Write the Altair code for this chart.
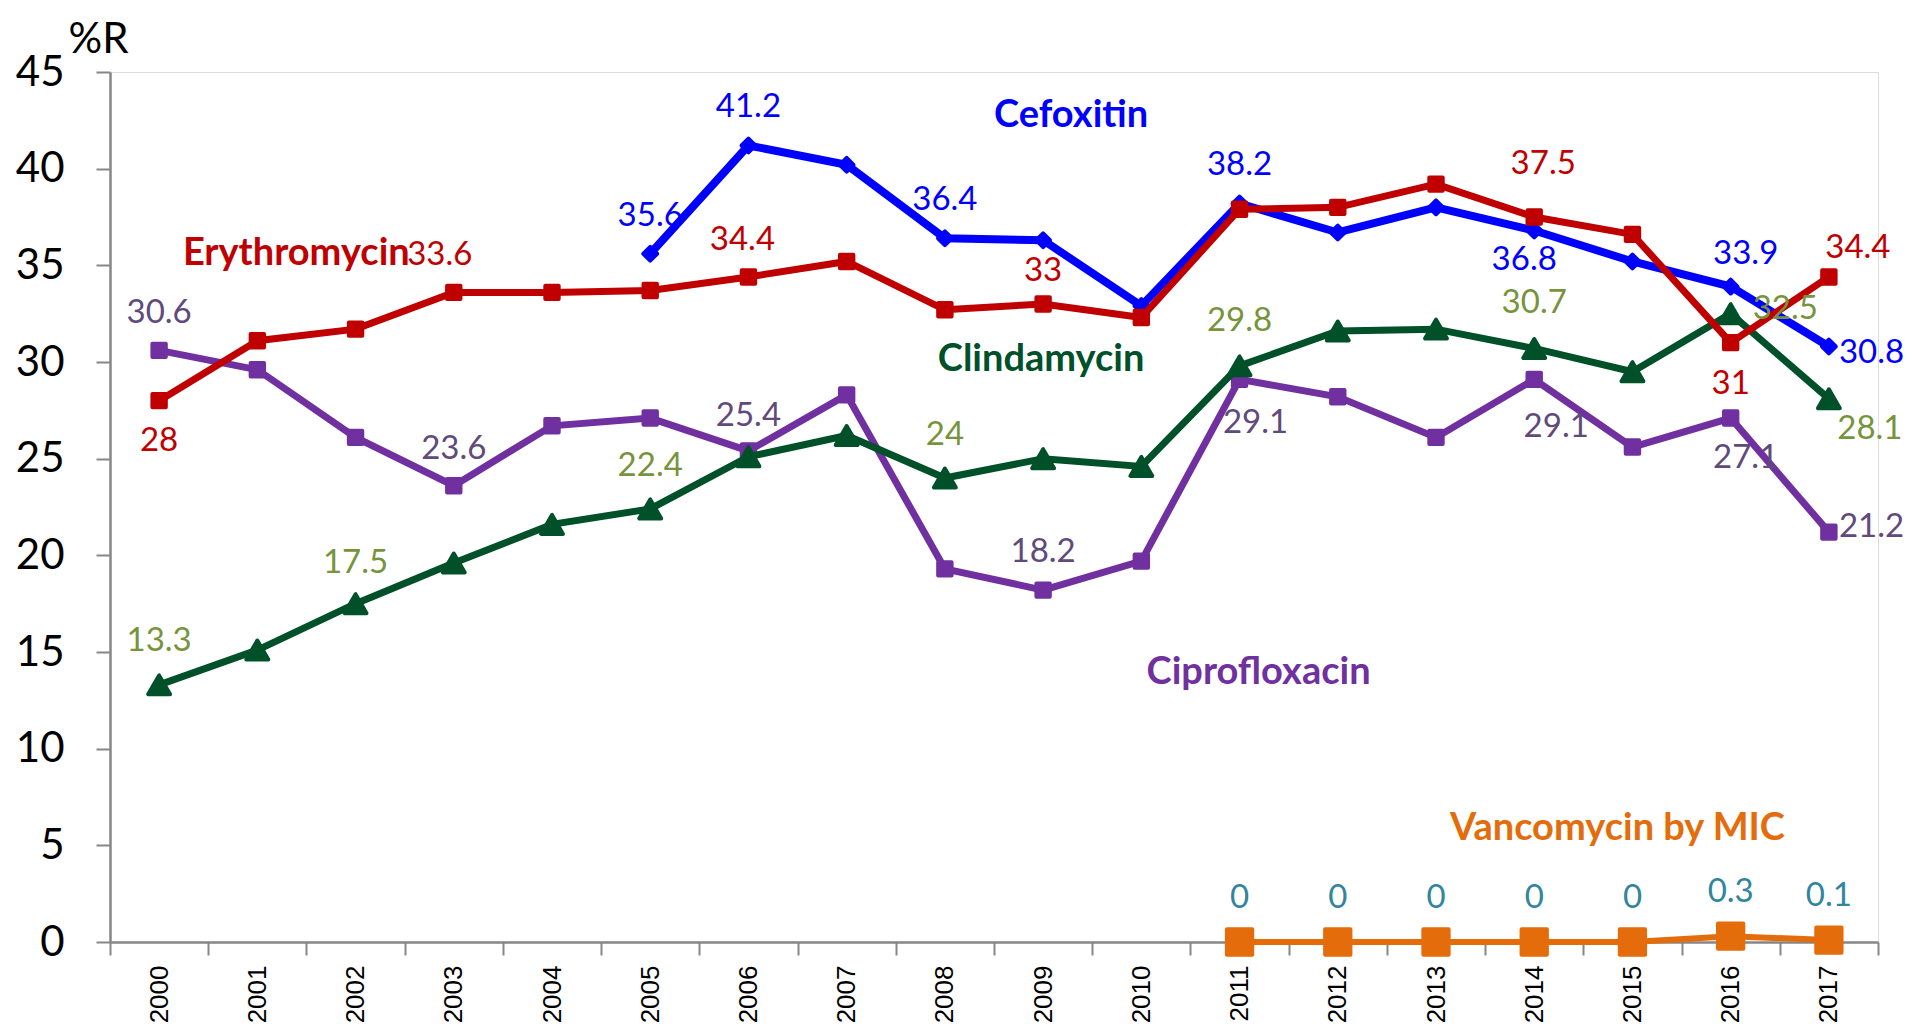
import altair as alt
import pandas as pd

# ---------------- data ----------------
years = list(range(2000, 2018))
cefoxitin_years = list(range(2005, 2018))
cefoxitin = [35.6, 41.2, 40.2, 36.4, 36.3, 32.9, 38.2, 36.7, 38.0, 36.8, 35.2, 33.9, 30.8]
erythromycin = [28, 31.1, 31.7, 33.6, 33.6, 33.7, 34.4, 35.2, 32.7, 33, 32.3, 37.9, 38.0, 39.2, 37.5, 36.6, 31, 34.4]
clindamycin = [13.3, 15.1, 17.5, 19.6, 21.6, 22.4, 25.1, 26.2, 24, 25.0, 24.6, 29.8, 31.6, 31.7, 30.7, 29.5, 32.5, 28.1]
ciprofloxacin = [30.6, 29.6, 26.1, 23.6, 26.7, 27.1, 25.4, 28.3, 19.3, 18.2, 19.7, 29.1, 28.2, 26.1, 29.1, 25.6, 27.1, 21.2]
vancomycin_years = list(range(2011, 2018))
vancomycin = [0, 0, 0, 0, 0, 0.3, 0.1]

series_names = ["Vancomycin by MIC", "Ciprofloxacin", "Clindamycin", "Cefoxitin", "Erythromycin"]
series_data = {
    "Cefoxitin": (cefoxitin_years, cefoxitin),
    "Erythromycin": (years, erythromycin),
    "Clindamycin": (years, clindamycin),
    "Ciprofloxacin": (years, ciprofloxacin),
    "Vancomycin by MIC": (vancomycin_years, vancomycin),
}

# ---------------- styles ----------------
line_color = {
    "Cefoxitin": "#0000FF",
    "Erythromycin": "#C00000",
    "Clindamycin": "#00502A",
    "Ciprofloxacin": "#7030A0",
    "Vancomycin by MIC": "#E46C0A",
}
label_color = {
    "Cefoxitin": "#0000FF",
    "Erythromycin": "#C00000",
    "Clindamycin": "#77933C",
    "Ciprofloxacin": "#604A7B",
    "Vancomycin by MIC": "#31859C",
}
line_width = {"Cefoxitin": 8, "Erythromycin": 7, "Clindamycin": 7, "Ciprofloxacin": 7, "Vancomycin by MIC": 6}
marker = {
    "Cefoxitin": ("diamond", 190),
    "Erythromycin": ("square", 180),
    "Clindamycin": ("triangle-up", 480),
    "Ciprofloxacin": ("square", 180),
    "Vancomycin by MIC": ("square", 640),
}

# data-label placement: (series, year, dx, dy, align)
label_place = [
    ("Cefoxitin", 2005, 0, -38, "center"), ("Cefoxitin", 2006, 0, -38, "center"),
    ("Cefoxitin", 2008, 0, -38, "center"), ("Cefoxitin", 2011, 0, -38, "center"),
    ("Cefoxitin", 2014, -10, 29, "center"), ("Cefoxitin", 2016, 15, -33, "center"),
    ("Cefoxitin", 2017, 10, 6, "left"),
    ("Erythromycin", 2000, 0, 40, "center"), ("Erythromycin", 2003, -14, -37, "center"),
    ("Erythromycin", 2006, -6, -37, "center"), ("Erythromycin", 2009, 0, -33, "center"),
    ("Erythromycin", 2014, 9, -53, "center"), ("Erythromycin", 2016, 0, 41, "center"),
    ("Erythromycin", 2017, 29, -29, "center"),
    ("Clindamycin", 2000, 0, -44, "center"), ("Clindamycin", 2002, 0, -41, "center"),
    ("Clindamycin", 2005, 0, -43, "center"), ("Clindamycin", 2008, 0, -43, "center"),
    ("Clindamycin", 2011, 0, -45, "center"), ("Clindamycin", 2014, 0, -45, "center"),
    ("Clindamycin", 2016, 22, -5, "left"), ("Clindamycin", 2017, 41, 30, "center"),
    ("Ciprofloxacin", 2000, 0, -37, "center"), ("Ciprofloxacin", 2003, 0, -37, "center"),
    ("Ciprofloxacin", 2006, 0, -35, "center"), ("Ciprofloxacin", 2009, 0, -38, "center"),
    ("Ciprofloxacin", 2011, 16, 44, "center"), ("Ciprofloxacin", 2014, 22, 48, "center"),
    ("Ciprofloxacin", 2016, 15, 40, "center"), ("Ciprofloxacin", 2017, 10, -5, "left"),
] + [("Vancomycin by MIC", y, 0, -44, "center") for y in vancomycin_years]

# series-name annotations: (text, year, value, dx)
name_place = [
    ("Cefoxitin", 2009, 42.7, 28),
    ("Erythromycin", 2001, 35.6, 39),
    ("Clindamycin", 2009, 30.1, -2),
    ("Ciprofloxacin", 2011, 13.9, 19),
    ("Vancomycin by MIC", 2015, 5.85, -15),
]

# ---------------- build table ----------------
rows = []
for s in series_names:
    ys, vs = series_data[s]
    for y, v in zip(ys, vs):
        rows.append({"series": s, "year": y, "value": v, "label": f"{v:g}"})
df = pd.DataFrame(rows)

FONT = "Lato"
X = alt.X(
    "year:O",
    scale=alt.Scale(type="band", domain=years, paddingInner=0, paddingOuter=0),
    axis=alt.Axis(
        title=None, labelAngle=270, labelFont="Liberation Sans", labelFontSize=26,
        labelColor="#000000", tickBand="extent", tickSize=13, labelPadding=10,
        domainColor="#868686", domainWidth=2.5, tickColor="#868686", tickWidth=2,
        grid=False,
    ),
)
Y = alt.Y(
    "value:Q",
    scale=alt.Scale(domain=[0, 45], nice=False, zero=True),
    axis=alt.Axis(
        values=list(range(0, 50, 5)), title="%R", titleAngle=0, titleX=-12, titleY=-33,
        titleAlign="center", titleBaseline="middle", titleFont=FONT, titleFontSize=42,
        titleFontWeight="normal", titleColor="#000000",
        labelFont=FONT, labelFontSize=42, labelColor="#000000", labelPadding=32,
        tickSize=14, tickColor="#868686", tickWidth=2, domainColor="#868686",
        domainWidth=2.5, grid=False,
    ),
)

layers = []
for s in series_names:
    sub = df[df.series == s]
    layers.append(
        alt.Chart(sub).mark_line(color=line_color[s], strokeWidth=line_width[s]).encode(x=X, y=Y)
    )
    shape, size = marker[s]
    layers.append(
        alt.Chart(sub).mark_point(
            shape=shape, size=size, filled=True, color=line_color[s], opacity=1,
            stroke=line_color[s], strokeWidth=4, strokeJoin="round",
        ).encode(x=X, y=Y)
    )

for s, yr, dx, dy, al in label_place:
    sub = df[(df.series == s) & (df.year == yr)]
    layers.append(
        alt.Chart(sub).mark_text(
            dx=dx, dy=dy, align=al, baseline="middle", font=FONT, fontSize=33,
            color=label_color[s],
        ).encode(x=X, y=Y, text="label:N")
    )

for txt, yr, val, dx in name_place:
    nd = pd.DataFrame({"year": [yr], "value": [val], "name": [txt]})
    layers.append(
        alt.Chart(nd).mark_text(
            dx=dx, align="center", baseline="middle", font=FONT, fontSize=38,
            fontWeight="bold", color=line_color[txt],
        ).encode(x=X, y=Y, text="name:N")
    )

chart = alt.layer(*layers).properties(
    width=1768, height=870,
    autosize=alt.AutoSizeParams(type="none"),
    padding={"left": 102, "top": 64, "right": 29, "bottom": 84},
).configure_view(stroke=None).configure(background="white")

chart.save("out.html", embed_options={"renderer": "svg", "actions": False})
